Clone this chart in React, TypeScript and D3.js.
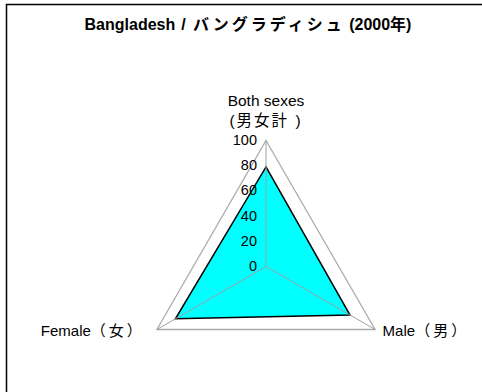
import React, { useEffect, useRef } from 'react';
import * as d3 from 'd3';

// chart data
const axes = ['Both sexes', 'Male', 'Female'];
const axisLabels = [['Both sexes', '(男女計 )'], ['Male', '（男）'], ['Female', '（女）']];
const values = [79, 77, 83];
const ticks = [0, 20, 40, 60, 80, 100];
const titleParts = ['Bangladesh', ' / ', 'バングラディシュ', ' (2000年)'];

const W = 482, H = 392;
const FONT = 'Arial, "Liberation Sans", "Noto Sans CJK JP", sans-serif';

export default function App() {
  const ref = useRef<SVGSVGElement>(null);

  useEffect(() => {
    const svg = d3.select(ref.current);
    svg.selectAll('*').remove();

    const cx = 266, cy = 266.5, R = 126;
    const r = d3.scaleLinear().domain([0, 100]).range([0, R]);
    const angle = (i) => (i * 2 * Math.PI) / axes.length;
    const pt = (i, v) => [cx + r(v) * Math.sin(angle(i)), cy - r(v) * Math.cos(angle(i))];

    // frame
    svg.append('rect')
      .attr('x', 6.5).attr('y', 4.5)
      .attr('width', W).attr('height', H)
      .attr('fill', 'white').attr('stroke', 'black').attr('stroke-width', 1.5);

    // title
    svg.append('text')
      .attr('x', 248).attr('y', 30)
      .attr('text-anchor', 'middle')
      .attr('font-family', FONT).attr('font-size', 16).attr('font-weight', 'bold')
      .selectAll('tspan').data(titleParts).join('tspan')
      .attr('letter-spacing', (d, i) => (i === 2 ? 3 : i === 1 ? 1.5 : 0))
      .text((d) => d);

    const line = d3.line().curve(d3.curveLinearClosed);

    // outer ring
    svg.append('path')
      .attr('d', line(axes.map((_, i) => pt(i, 100))))
      .attr('fill', 'none').attr('stroke', '#aaaaaa').attr('stroke-width', 1.3);

    // series
    svg.append('path')
      .attr('d', line(values.map((v, i) => pt(i, v))))
      .attr('fill', '#00ffff').attr('stroke', 'black').attr('stroke-width', 1.5);

    // spokes
    axes.forEach((_, i) => {
      const [x, y] = pt(i, 100);
      svg.append('line')
        .attr('x1', cx).attr('y1', cy).attr('x2', x).attr('y2', y)
        .attr('stroke', '#a0a0a0').attr('stroke-width', 1);
    });

    // tick labels
    svg.selectAll('.tick').data(ticks).join('text')
      .attr('class', 'tick')
      .attr('x', cx - 9)
      .attr('y', (d) => cy - r(d) + 4.5)
      .attr('text-anchor', 'end')
      .attr('font-family', FONT).attr('font-size', 14.5)
      .text((d) => d);

    // axis labels
    const top = svg.append('text')
      .attr('text-anchor', 'middle')
      .attr('font-family', FONT).attr('font-size', 15.5);
    top.append('tspan').attr('x', cx).attr('y', 106).text(axisLabels[0][0]);
    top.append('tspan').attr('x', cx).attr('y', 126).attr('letter-spacing', 2).text(axisLabels[0][1]);

    const [mx, my] = pt(1, 100);
    const male = svg.append('text')
      .attr('x', mx + 7.5).attr('y', my + 6)
      .attr('font-family', FONT).attr('font-size', 15);
    male.append('tspan').text(axisLabels[1][0]);
    male.append('tspan').attr('letter-spacing', 3).text(axisLabels[1][1]);

    const [fx, fy] = pt(2, 100);
    const female = svg.append('text')
      .attr('x', fx - 12).attr('y', fy + 6)
      .attr('text-anchor', 'end')
      .attr('font-family', FONT).attr('font-size', 15);
    female.append('tspan').text(axisLabels[2][0]);
    female.append('tspan').attr('letter-spacing', 3).text(axisLabels[2][1]);
  }, []);

  return (
    <svg ref={ref} width={W} height={H}
      style={{ position: 'absolute', left: 0, top: 0, background: 'white' }} />
  );
}
